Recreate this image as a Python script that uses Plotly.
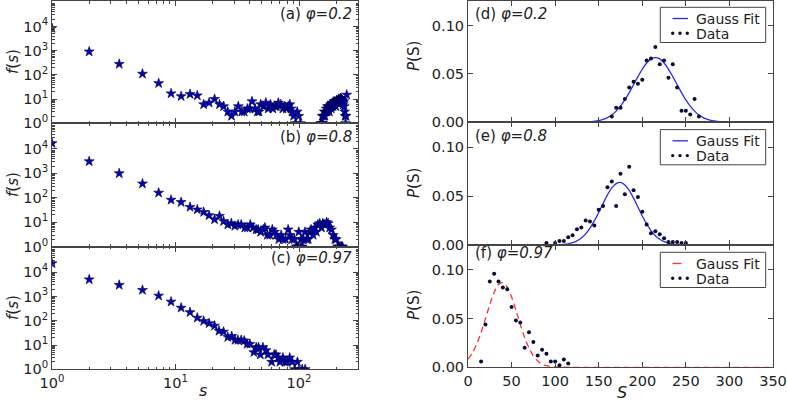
import math
import plotly.graph_objects as go

# ---------------- data: left column, f(s) vs s (log-log) ----------------
s_a = [1, 2, 3.5, 5.4, 7.3, 9.2, 11.1, 13.1, 15.0, 16.9, 18.7, 20.7, 22.7, 24.5, 26.5, 28.4,
       30.2, 32.2, 34.4, 36.0, 38.2, 40.0, 41.6, 44.1, 46.0, 47.4, 48.9, 51.3, 53.8, 56.3,
       58.7, 61.4, 63.8, 65.7, 68.0, 71.0, 74.0, 76.6, 79.0, 81.7, 84.2, 86.0, 88.0, 90.4,
       93.5, 96.6, 99.5, 102.5,
       150, 152, 154, 156, 158, 160, 162, 164, 166, 168, 170, 172, 174, 176, 178, 180, 182,
       184, 186, 188, 190, 192, 194, 196, 198, 200, 202, 204, 206, 208, 210, 212, 214, 216,
       218, 220, 222, 224, 226, 228, 230, 232, 234, 236, 238, 240, 243]
f_a = [8500, 910, 280, 110, 45, 17, 13, 16, 14, 6, 7, 10, 6, 5, 3, 2,
       3, 5, 3, 3, 4, 4, 8, 4, 3, 3, 6, 5, 7, 4,
       6, 4, 5, 5, 7, 6, 4, 5, 4, 5, 6, 4, 3, 2,
       1, 3, 2, 1,
       1, 1, 2, 1, 2, 3, 2, 3, 4, 3, 5, 4, 5, 3, 5, 6, 4,
       5, 7, 5, 6, 8, 6, 7, 5, 8, 9, 7, 8, 10, 9, 8, 10, 9,
       11, 10, 8, 9, 7, 6, 8, 5, 3, 2, 1, 2, 15]

s_b = [1, 2, 3.5, 5.4, 7.3, 9.2, 11.1, 13.1, 15.0, 16.9, 18.7, 20.7, 22.7, 24.5, 26.5, 28.3,
       30.2, 32.1, 34.0, 36.4, 38.2, 40.3, 42.5, 44.9, 46.6, 48.9, 51.4, 52.9, 55.4, 58.0,
       60.7, 63.3, 65.6, 68.6, 71.6, 74.4, 77.8, 81.6, 84.2, 88.0, 91.5, 95.0, 97.0, 99.5,
       101, 103.7, 106, 108.5, 111.6, 115, 118.8, 122, 125, 130, 134, 138, 142, 147, 152,
       156, 161, 167, 172, 177, 183, 189, 195, 200, 205, 210, 215, 220, 225]
f_b = [17000, 3100, 1000, 380, 160, 82, 66, 42, 33, 26, 19, 13, 18, 11, 8, 9,
       7, 8, 8, 6, 6, 8, 6, 5, 5, 4, 5, 6, 3, 3,
       5, 4, 3, 2, 3, 2, 2, 5, 3, 2, 2, 1, 1, 4,
       1, 2, 1, 2, 4, 2, 2, 4, 5, 3, 6, 4, 8, 9, 6,
       9, 8, 10, 9, 6, 5, 3, 2, 2, 1, 1, 1, 1, 1]

s_c = [1, 2, 3.5, 5.4, 7.3, 9.2, 11.1, 13.1, 15.0, 16.9, 18.7, 20.7, 22.5, 24.5, 26.5, 28.5,
       30.3, 32.0, 34.0, 36.0, 38.0, 40.0, 43.0, 45.0, 47.0, 48.6, 51.0, 54.0, 56.0, 60.0,
       63.0, 65.0, 68.0, 70.0, 74.0, 77.0, 80.0, 84.0, 88.0, 92.0, 97.0, 100.0, 106.0, 112.0]
f_c = [23000, 5000, 2950, 1830, 1070, 605, 340, 222, 132, 97, 78, 62, 38, 35, 21, 23,
       16, 16, 16, 15, 11, 11, 5, 8, 8, 4, 8, 6, 4, 2,
       4, 4, 3, 2, 3, 2, 2, 3, 2, 1, 2, 1, 1, 1]

# ---------------- data: right column, P(S) vs S ----------------
S_d = [165, 170, 175, 180, 185, 190, 195, 200, 205, 210, 215, 220, 225, 230, 235, 240,
       245, 250, 255, 260, 265]
P_d = [0.006, 0.015, 0.015, 0.024, 0.036, 0.042, 0.040, 0.044, 0.064, 0.066, 0.078, 0.060,
       0.064, 0.046, 0.060, 0.036, 0.012, 0.012, 0.008, 0.024, 0.006]
fitS_d = [0, 100, 120, 130, 140, 150, 155, 160, 165, 170, 175, 180, 185, 190, 195, 200, 205,
          210, 215, 220, 225, 230, 235, 240, 245, 250, 255, 260, 265, 270, 275, 280, 290,
          300, 310, 330, 350]
fitP_d = [0, 0, 0.00003, 0.00013, 0.00051, 0.0017, 0.0030, 0.0049, 0.0076, 0.0116, 0.0167,
          0.0231, 0.0307, 0.0389, 0.0473, 0.0551, 0.0614, 0.0656, 0.0670, 0.0656, 0.0614,
          0.0551, 0.0473, 0.0389, 0.0307, 0.0231, 0.0167, 0.0116, 0.0076, 0.0049, 0.0030,
          0.0017, 0.00051, 0.00013, 0.00003, 0, 0]

S_e = [90, 100, 105, 110, 115, 120, 125, 130, 135, 140, 145, 150, 155, 160, 165, 170, 175,
       180, 185, 190, 195, 200, 205, 210, 215, 220, 225, 230, 235, 240, 245, 250]
P_e = [0.002, 0.002, 0.004, 0.004, 0.008, 0.010, 0.016, 0.018, 0.025, 0.024, 0.020, 0.036,
       0.040, 0.059, 0.065, 0.040, 0.073, 0.052, 0.080, 0.056, 0.049, 0.034, 0.021, 0.012,
       0.014, 0.011, 0.007, 0.003, 0.003, 0.003, 0.002, 0.002]
fitS_e = [0, 80, 100, 110, 115, 120, 125, 130, 135, 140, 145, 150, 155, 160, 165, 170, 175,
          180, 185, 190, 195, 200, 205, 210, 215, 220, 225, 230, 235, 240, 250, 260, 280, 350]
fitP_e = [0, 0, 0.00013, 0.00062, 0.00124, 0.00235, 0.0042, 0.0071, 0.0114, 0.0173, 0.0247,
          0.0333, 0.0425, 0.0512, 0.0584, 0.0628, 0.0640, 0.0614, 0.0558, 0.0479, 0.0388,
          0.0297, 0.0215, 0.0147, 0.0095, 0.0058, 0.0034, 0.0018, 0.0009, 0.00046, 0.0001,
          0, 0, 0]

S_f = [15, 20, 25, 30, 35, 40, 45, 50, 55, 60, 65, 70, 75, 80, 85, 90, 95, 100, 105, 110, 115]
P_f = [0.006, 0.044, 0.088, 0.096, 0.088, 0.082, 0.080, 0.062, 0.048, 0.046, 0.020, 0.036,
       0.026, 0.012, 0.018, 0.014, 0.006, 0.006, 0.002, 0.008, 0.004]
fitS_f = [0, 5, 10, 15, 20, 25, 30, 35, 40, 45, 50, 55, 60, 65, 70, 75, 80, 85, 90, 95, 100,
          110, 120, 150, 200, 250, 300, 350]
fitP_f = [0.0083, 0.0146, 0.0238, 0.0358, 0.0498, 0.0643, 0.0768, 0.0849, 0.0869, 0.0823,
          0.0722, 0.0586, 0.0440, 0.0306, 0.0197, 0.0118, 0.0065, 0.0033, 0.0016, 0.0007,
          0.0003, 0.00004, 0, 0, 0, 0, 0, 0]

left_labels = ["(a) <i>φ=0.2</i>", "(b) <i>φ=0.8</i>", "(c) <i>φ=0.97</i>"]
right_labels = ["(d) <i>φ=0.2</i>", "(e) <i>φ=0.8</i>", "(f) <i>φ=0.97</i>"]
log_tickvals = [1, 10, 100, 1000, 10000]
log_ticktext = ["10<sup>0</sup>", "10<sup>1</sup>", "10<sup>2</sup>", "10<sup>3</sup>", "10<sup>4</sup>"]
x_log_tickvals = [1, 10, 100]
x_log_ticktext = ["10<sup>0</sup>", "10<sup>1</sup>", "10<sup>2</sup>"]
lin_tickvals = [0, 50, 100, 150, 200, 250, 300, 350]
legend_names = ["Gauss Fit", "Data"]

# ---------------- layout helpers ----------------
W, H = 787, 404
FONT = "DejaVu Sans"
TXT = "#222222"
AX = "#444444"
FS = 15
TFS = 14.5


def X(px):
    return px / W


def Y(py):
    return 1 - py / H


left_x = [X(52), X(358)]
right_x = [X(468), X(773)]
left_rows = [(1, 123.3), (123.3, 246.7), (246.7, 369.3)]
right_rows = [(1, 122.3), (122.3, 245.0), (245.0, 367.3)]

minor_log = [m * 10 ** e for e in range(0, 6) for m in range(2, 10)]

star_marker = dict(symbol="star", size=7.5, color="#0000cc", line=dict(color="#000033", width=0.6))
dot_marker = dict(symbol="circle", size=4, color="#0b0b3b")

fig = go.Figure()

left_data = [(s_a, f_a), (s_b, f_b), (s_c, f_c)]
for i, (sx, fy) in enumerate(left_data):
    n = i + 1
    fig.add_trace(go.Scatter(x=sx, y=fy, mode="markers", marker=star_marker,
                             xaxis=f"x{n}", yaxis=f"y{n}", showlegend=False))

right_data = [(S_d, P_d, fitS_d, fitP_d, "#2a2aff", "solid"),
              (S_e, P_e, fitS_e, fitP_e, "#2a2aff", "solid"),
              (S_f, P_f, fitS_f, fitP_f, "#ff3030", "6px,4px")]
for i, (sx, py, fx, fy, col, dash) in enumerate(right_data):
    n = i + 4
    fig.add_trace(go.Scatter(x=fx, y=fy, mode="lines",
                             line=dict(color=col, width=1.3, dash=dash, shape="spline", smoothing=0.8),
                             xaxis=f"x{n}", yaxis=f"y{n}", showlegend=False))
    fig.add_trace(go.Scatter(x=sx, y=py, mode="markers", marker=dot_marker,
                             xaxis=f"x{n}", yaxis=f"y{n}", showlegend=False))

common = dict(showline=True, linecolor=AX, linewidth=1, mirror="ticks", ticks="inside",
              ticklen=5, tickcolor=AX, tickwidth=1, showgrid=False, zeroline=False,
              automargin=False, tickfont=dict(family=FONT, size=TFS, color=TXT))

layout = dict(width=W, height=H, margin=dict(l=0, r=0, t=0, b=0, autoexpand=False),
              paper_bgcolor="white", plot_bgcolor="white", showlegend=False,
              font=dict(family=FONT, color=TXT))

for i in range(3):
    n = i + 1
    top, bot = left_rows[i]
    layout[f"xaxis{n}"] = dict(common, type="log", domain=left_x, anchor=f"y{n}",
                               range=[0, math.log10(300)], tickmode="array",
                               tickvals=x_log_tickvals, ticktext=x_log_ticktext,
                               showticklabels=(i == 2),
                               minor=dict(tickmode="array", tickvals=minor_log, ticks="inside",
                                          ticklen=2.5, tickcolor=AX, showgrid=False))
    layout[f"yaxis{n}"] = dict(common, type="log", domain=[Y(bot), Y(top)], anchor=f"x{n}",
                               range=[0, 5.05], tickmode="array",
                               tickvals=log_tickvals, ticktext=log_ticktext,
                               minor=dict(tickmode="array", tickvals=minor_log, ticks="inside",
                                          ticklen=2.5, tickcolor=AX, showgrid=False))
for i in range(3):
    n = i + 4
    top, bot = right_rows[i]
    layout[f"xaxis{n}"] = dict(common, domain=right_x, anchor=f"y{n}", range=[0, 350],
                               tickmode="array", tickvals=lin_tickvals,
                               showticklabels=(i == 2))
    layout[f"yaxis{n}"] = dict(common, domain=[Y(bot), Y(top)], anchor=f"x{n}",
                               range=[0, 0.1255], tickmode="array",
                               tickvals=[0, 0.05, 0.10], ticktext=["0.00", "0.05", "0.10"])

fig.update_layout(**layout)

annotations = []
shapes = []
label_y_left = [14, 136.7, 258]
label_y_right = [14, 136, 253]
for i in range(3):
    annotations.append(dict(x=X(354), y=Y(label_y_left[i]), xref="paper", yref="paper",
                            text=left_labels[i], showarrow=False, xanchor="right", yanchor="middle",
                            font=dict(family=FONT, size=FS, color=TXT)))
    annotations.append(dict(x=X(473), y=Y(label_y_right[i]), xref="paper", yref="paper",
                            text=right_labels[i], showarrow=False, xanchor="left", yanchor="middle",
                            font=dict(family=FONT, size=FS, color=TXT)))

# axis titles
for yc in [62, 185, 308]:
    annotations.append(dict(x=X(13), y=Y(yc), xref="paper", yref="paper", text="<i>f</i>(<i>s</i>)",
                            showarrow=False, textangle=-90, xanchor="center", yanchor="middle",
                            font=dict(family=FONT, size=FS, color=TXT)))
for yc in [56, 183, 305]:
    annotations.append(dict(x=X(414), y=Y(yc), xref="paper", yref="paper", text="<i>P</i>(S)",
                            showarrow=False, textangle=-90, xanchor="center", yanchor="middle",
                            font=dict(family=FONT, size=FS, color=TXT)))
annotations.append(dict(x=X(203), y=Y(390), xref="paper", yref="paper", text="<i>s</i>",
                        showarrow=False, xanchor="center", yanchor="middle",
                        font=dict(family=FONT, size=FS + 1, color=TXT)))
annotations.append(dict(x=X(622), y=Y(392), xref="paper", yref="paper", text="<i>S</i>",
                        showarrow=False, xanchor="center", yanchor="middle",
                        font=dict(family=FONT, size=FS + 1, color=TXT)))

# custom legends (matplotlib style, three scatter points)
for i in range(3):
    top = right_rows[i][0] if i > 0 else 0
    col, dash = right_data[i][4], right_data[i][5]
    shapes.append(dict(type="rect", xref="paper", yref="paper", x0=X(660.3), x1=X(765.7),
                       y0=Y(top + 42.5), y1=Y(top + 7.3), line=dict(color=AX, width=1),
                       fillcolor="white", layer="above"))
    shapes.append(dict(type="line", xref="paper", yref="paper", x0=X(672.5), x1=X(688),
                       y0=Y(top + 18.5), y1=Y(top + 18.5),
                       line=dict(color=col, width=1.3, dash="dash" if dash != "solid" else "solid")))
    for dx in [672.7, 680.0, 687.3]:
        shapes.append(dict(type="circle", xref="paper", yref="paper", x0=X(dx - 1.7), x1=X(dx + 1.7),
                           y0=Y(top + 33.3 + 1.7), y1=Y(top + 33.3 - 1.7),
                           fillcolor="#0b0b3b", line=dict(width=0)))
    annotations.append(dict(x=X(694), y=Y(top + 18.5), xref="paper", yref="paper", text=legend_names[0],
                            showarrow=False, xanchor="left", yanchor="middle", height=15,
                            font=dict(family=FONT, size=14, color=TXT)))
    annotations.append(dict(x=X(694), y=Y(top + 33.3), xref="paper", yref="paper", text=legend_names[1],
                            showarrow=False, xanchor="left", yanchor="middle", height=15,
                            font=dict(family=FONT, size=14, color=TXT)))

fig.update_layout(annotations=annotations, shapes=shapes)
fig.write_html("out.html", config={"displayModeBar": False},
               post_script="document.body.style.margin='0';document.body.style.overflow='hidden';")
